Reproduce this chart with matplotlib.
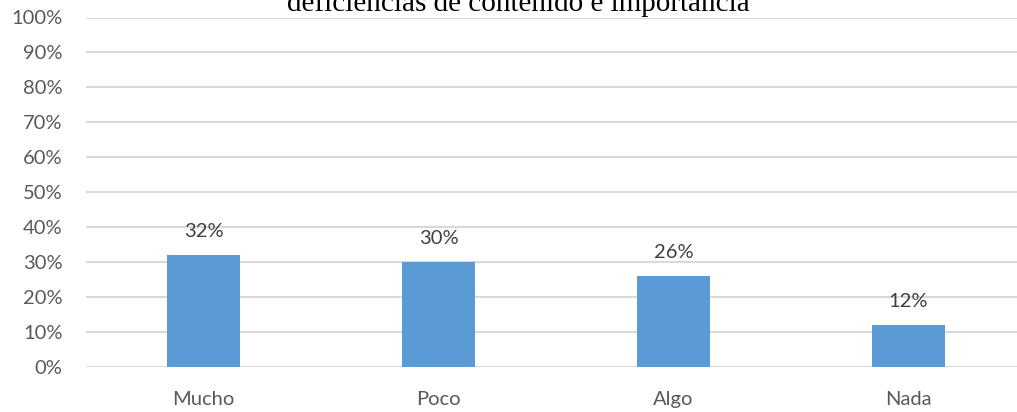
import matplotlib
matplotlib.use('Agg')
import matplotlib.pyplot as plt
import numpy as np

categorias = ['Mucho', 'Poco', 'Algo', 'Nada']
valores = [32, 30, 26, 12]
ticks_y = [0, 10, 20, 30, 40, 50, 60, 70, 80, 90, 100]
titulo = 'deficiencias de contenido e importancia'

gris = '#595959'
azul = '#5b9bd5'

fig = plt.figure(figsize=(10.17, 4.12), dpi=100)
ax = fig.add_axes([86 / 1017, 45 / 412, 940 / 1017, 349.5 / 412])

x = np.arange(len(categorias))
ax.bar(x, valores, width=0.31, color=azul, zorder=3)
for xi, v in zip(x, valores):
    ax.annotate('%d%%' % v, (xi, v), xytext=(0, 17), textcoords='offset points',
                ha='center', va='center', fontsize=14.5, color='#404040', family='Lato')

ax.set_xlim(-0.5, len(categorias) - 0.5)
ax.set_ylim(0, 100)
ax.set_yticks(ticks_y)
ax.set_yticklabels(['%d%%' % t for t in ticks_y])
ax.set_xticks(x)
ax.set_xticklabels(categorias)
ax.grid(axis='y', color='#d9d9d9', linewidth=1.5, zorder=0)
for s in ax.spines.values():
    s.set_visible(False)
ax.tick_params(axis='both', length=0, colors=gris, labelsize=14.5)
ax.tick_params(axis='y', pad=17)
ax.tick_params(axis='x', pad=17)
for lbl in ax.get_xticklabels() + ax.get_yticklabels():
    lbl.set_family('Lato')

fig.text(518 / 1017, (412 - 11) / 412, titulo, ha='center', va='baseline',
         fontsize=21, family='Liberation Serif', color='black')

fig.savefig('out.png', dpi=100)
